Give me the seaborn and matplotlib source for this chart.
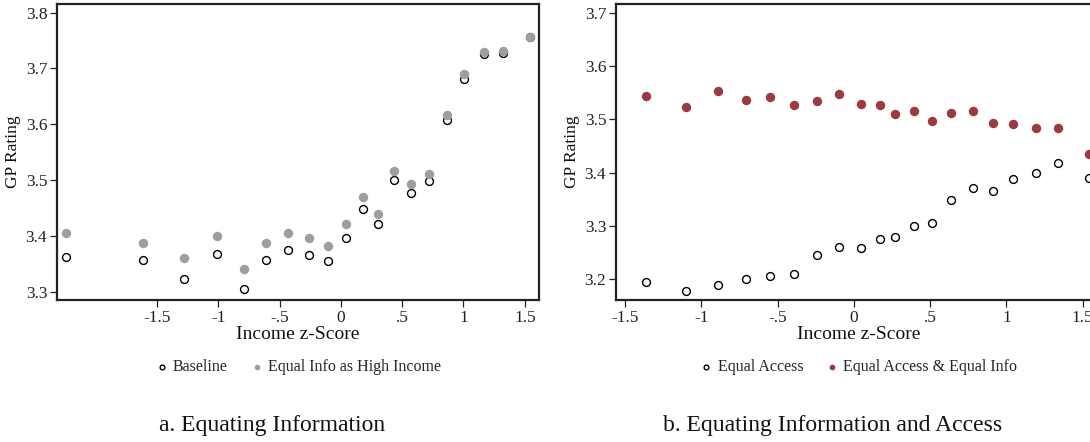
import numpy as np
import pandas as pd
import matplotlib
matplotlib.use('Agg')
import matplotlib.pyplot as plt
import seaborn as sns

sns.set_theme(style='white')
plt.rcParams['font.family'] = ['Liberation Serif', 'DejaVu Serif']

# ---- data: panel a (Equating Information) ----
x_a = [-2.245, -1.613, -1.276, -1.012, -0.791, -0.610, -0.434, -0.264, -0.102, 0.045,
       0.184, 0.301, 0.437, 0.570, 0.717, 0.865, 1.006, 1.165, 1.324, 1.542]
baseline = [3.362, 3.356, 3.323, 3.367, 3.305, 3.356, 3.375, 3.365, 3.355, 3.396,
            3.448, 3.421, 3.500, 3.477, 3.498, 3.607, 3.681, 3.725, 3.727, 3.756]
equal_info = [3.405, 3.388, 3.360, 3.400, 3.340, 3.388, 3.405, 3.397, 3.381, 3.421,
              3.470, 3.439, 3.516, 3.493, 3.511, 3.617, 3.690, 3.730, 3.732, 3.756]

# ---- data: panel b (Equating Information and Access) ----
x_b = [-1.361, -1.098, -0.888, -0.710, -0.551, -0.394, -0.241, -0.098, 0.046, 0.169,
       0.269, 0.392, 0.513, 0.640, 0.781, 0.909, 1.046, 1.191, 1.339, 1.544]
equal_access = [3.194, 3.178, 3.189, 3.201, 3.206, 3.209, 3.245, 3.261, 3.259, 3.275,
                3.279, 3.299, 3.305, 3.349, 3.371, 3.366, 3.387, 3.400, 3.417, 3.389]
access_info = [3.544, 3.523, 3.552, 3.536, 3.542, 3.527, 3.535, 3.547, 3.528, 3.526,
               3.510, 3.516, 3.496, 3.512, 3.515, 3.492, 3.491, 3.483, 3.483, 3.435]

x_ticks = [-1.5, -1, -0.5, 0, 0.5, 1, 1.5]
x_ticklabels = ['-1.5', '-1', '-.5', '0', '.5', '1', '1.5']

df_a = pd.DataFrame({
    'z': x_a + x_a,
    'rating': baseline + equal_info,
    'series': ['Baseline'] * len(x_a) + ['Equal Info as High Income'] * len(x_a),
})
df_b = pd.DataFrame({
    'z': x_b + x_b,
    'rating': equal_access + access_info,
    'series': ['Equal Access'] * len(x_b) + ['Equal Access & Equal Info'] * len(x_b),
})

W, H = 1090, 442
fig = plt.figure(figsize=(W / 100, H / 100), dpi=100)

def px_axes(x0, x1, y0, y1):
    return fig.add_axes([x0 / W, 1 - y1 / H, (x1 - x0) / W, (y1 - y0) / H])

ax1 = px_axes(57, 539, 4, 300)
ax2 = px_axes(616, 1101, 4, 300)


def draw(ax, df, names, fill_color, xlim, ylim, yticks):
    s = df['series'] == names[0]
    # hollow series first, filled series drawn over it
    sns.scatterplot(data=df[s], x='z', y='rating', ax=ax, s=32,
                    facecolor='white', edgecolor='black', linewidth=1.0, label=names[0])
    sns.scatterplot(data=df[~s], x='z', y='rating', ax=ax, s=46,
                    color=fill_color, edgecolor=fill_color, linewidth=0, label=names[1])
    ax.set_xlim(*xlim)
    ax.set_ylim(*ylim)
    ax.set_xticks(x_ticks)
    ax.set_xticklabels(x_ticklabels)
    ax.set_yticks(yticks)
    ax.set_yticklabels([f'{v:.1f}' for v in yticks])
    ax.tick_params(axis='both', direction='out', length=5, width=0.9, labelsize=12.5,
                   bottom=True, left=True, colors='#222222', pad=2)
    for sp in ax.spines.values():
        sp.set_visible(True)
        sp.set_color('#222222')
        sp.set_linewidth(1.6)
    ax.set_xlabel('Income z-Score', fontsize=14, labelpad=0, color='#111111')
    ax.set_ylabel('GP Rating', fontsize=12.5, labelpad=3, color='#111111')
    ax.legend(loc='upper center', bbox_to_anchor=(0.5, -0.15), ncol=2, frameon=False,
              fontsize=11.5, markerscale=0.6, handlelength=0.8, handletextpad=0.3,
              columnspacing=1.4)


draw(ax1, df_a, ['Baseline', 'Equal Info as High Income'], '#9e9e9e',
     (-2.316, 1.616), (3.285, 3.8155), [3.3, 3.4, 3.5, 3.6, 3.7, 3.8])
draw(ax2, df_b, ['Equal Access', 'Equal Access & Equal Info'], '#9b3a40',
     (-1.559, 1.62), (3.161, 3.716), [3.2, 3.3, 3.4, 3.5, 3.6, 3.7])

fig.text(272 / W, 1 - 425 / H, 'a. Equating Information', ha='center', va='center',
         fontsize=17, color='#111111')
fig.text(833 / W, 1 - 425 / H, 'b. Equating Information and Access', ha='center',
         va='center', fontsize=17, color='#111111')

fig.savefig('out.png', dpi=100)
